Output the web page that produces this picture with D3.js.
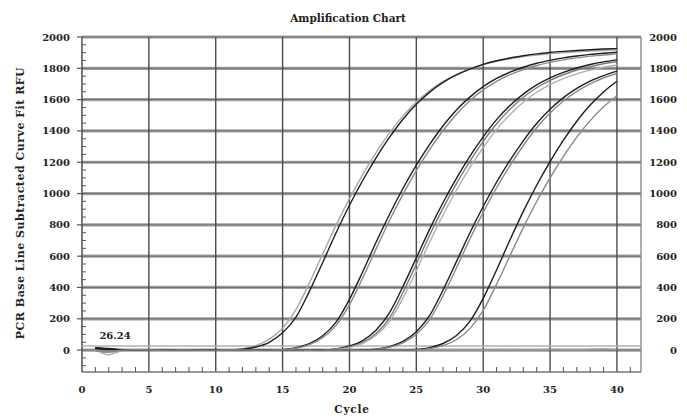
<!DOCTYPE html>
<html>
<head>
<meta charset="utf-8">
<script src="https://cdn.jsdelivr.net/npm/d3@7"></script>
<style>
  html, body { margin: 0; padding: 0; background: #fff; }
  svg text { font-family: "DejaVu Serif", "Liberation Serif", serif; font-weight: bold; fill: #222; }
</style>
</head>
<body>
<svg id="chart" width="687" height="418"></svg>
<script>
// cycle numbers along the x axis
const cycles = d3.range(1, 41);

// RFU values, one array per well
const wellA1 = [4, -30, -4, 2, 4, 1, -2, 3, 0, 1, 1, 9, 29, 68, 139, 258, 428, 614, 798, 968, 1123, 1263, 1388, 1496, 1585, 1658, 1716, 1760, 1795, 1823, 1844, 1861, 1875, 1885, 1893, 1900, 1906, 1910, 1914, 1917];
const wellA2 = [16, 10, 2, -1, 3, 2, 0, -2, 1, 2, 0, 5, 20, 50, 110, 210, 375, 560, 750, 925, 1085, 1230, 1360, 1475, 1570, 1648, 1710, 1758, 1795, 1825, 1848, 1866, 1880, 1892, 1901, 1908, 1914, 1919, 1923, 1926];
const wellB1 = [8, 3, -2, 0, 2, 1, -1, 0, 2, 1, -1, 0, 1, 0, 3, 15, 41, 92, 179, 324, 502, 690, 868, 1032, 1181, 1314, 1433, 1534, 1616, 1683, 1735, 1775, 1807, 1832, 1851, 1867, 1879, 1889, 1896, 1902];
const wellB2 = [-3, -8, 1, 2, 0, -1, 1, 2, 0, -1, 0, 1, 0, -1, 2, 12, 35, 79, 158, 290, 463, 648, 829, 995, 1146, 1282, 1403, 1507, 1593, 1662, 1717, 1759, 1792, 1818, 1838, 1854, 1867, 1878, 1885, 1892];
const wellC1 = [12, 5, 0, 1, -1, 0, 2, 1, -1, 0, 1, 0, -2, -1, 0, 1, 0, 1, 8, 26, 61, 128, 239, 406, 589, 773, 943, 1097, 1237, 1362, 1472, 1562, 1635, 1694, 1739, 1774, 1802, 1824, 1841, 1854];
const wellC2 = [2, -4, -1, 0, 1, 2, 0, -1, 0, 1, 0, -1, 0, 1, -1, 0, 1, 0, 5, 20, 49, 108, 206, 368, 549, 735, 907, 1063, 1205, 1333, 1446, 1539, 1615, 1676, 1723, 1759, 1789, 1811, 1829, 1842];
const wellC3 = [-6, -14, -3, 1, 0, -1, 0, 1, 2, 0, -1, 0, 1, 0, -1, 0, 1, 2, 4, 16, 43, 95, 184, 332, 507, 691, 863, 1021, 1165, 1294, 1408, 1504, 1583, 1647, 1696, 1734, 1764, 1788, 1807, 1821];
const wellD1 = [10, 6, 1, -1, 0, 1, -2, 0, 1, 0, -1, 0, 2, 1, 0, -1, 0, 1, 0, -1, 0, 6, 22, 55, 117, 221, 384, 565, 748, 917, 1072, 1212, 1337, 1447, 1538, 1613, 1672, 1718, 1753, 1782];
const wellD2 = [0, -10, -2, 1, 2, 0, -1, 1, 0, -1, 1, 2, 0, -1, 0, 1, -1, 0, 1, 0, -1, 4, 18, 46, 101, 194, 348, 525, 709, 880, 1037, 1179, 1307, 1420, 1514, 1591, 1653, 1701, 1738, 1767];
const wellE1 = [14, 7, 2, 0, -1, 1, 0, -1, 1, 2, 0, -1, 0, 1, -2, -1, 0, 1, 0, -1, 0, 1, 0, -1, 4, 16, 42, 93, 183, 330, 512, 703, 886, 1053, 1204, 1341, 1462, 1565, 1649, 1717];
const wellE2 = [-4, -12, 0, 2, 1, -1, 0, 1, -1, 0, 1, 0, -1, 0, 1, 0, -1, 0, 1, 0, -2, -1, 0, 1, 1, 9, 28, 66, 137, 253, 420, 602, 782, 949, 1100, 1237, 1360, 1466, 1554, 1625];
const wellNtc = [5, -2, 3, 0, 2, -1, 1, 3, 0, -2, 1, 2, 0, -1, 2, 1, 0, 3, 1, 0, 2, 1, -1, 0, 2, 1, 3, 2, 0, 1, 2, 3, 1, 2, 4, 3, 2, 5, 8, 4];

const threshold = 26.24;
const xTicks = [0, 5, 10, 15, 20, 25, 30, 35, 40];
const yTicks = [0, 200, 400, 600, 800, 1000, 1200, 1400, 1600, 1800, 2000];

const wells = [wellNtc, wellA1, wellA2, wellB1, wellB2, wellC1, wellC2, wellC3, wellD1, wellD2, wellE1, wellE2];
const shades = ["#9a9a9a", "#a8a8a8", "#1e1e1e", "#1e1e1e", "#8a8a8a", "#1e1e1e", "#7a7a7a", "#b0b0b0", "#1e1e1e", "#8a8a8a", "#1e1e1e", "#8a8a8a"];

const svg = d3.select("#chart");
const plot = {left: 82, right: 641, top: 37, bottom: 372};

const x = d3.scaleLinear().domain([0, 41.8]).range([plot.left, plot.right]);
const y = d3.scaleLinear().domain([-140, 2000]).range([plot.bottom, plot.top]);

// horizontal grid (thick grey bands)
svg.append("g")
   .selectAll("line")
   .data(yTicks)
   .enter().append("line")
   .attr("x1", plot.left).attr("x2", plot.right)
   .attr("y1", d => y(d)).attr("y2", d => y(d))
   .attr("stroke", "#a0a0a0")
   .attr("stroke-width", 3.2);
svg.append("g")
   .selectAll("line")
   .data(yTicks)
   .enter().append("line")
   .attr("x1", plot.left).attr("x2", plot.right)
   .attr("y1", d => y(d)).attr("y2", d => y(d))
   .attr("stroke", "#6a6a6a")
   .attr("stroke-width", 0.9);

// vertical grid
svg.append("g")
   .selectAll("line")
   .data(xTicks.slice(1))
   .enter().append("line")
   .attr("x1", d => x(d)).attr("x2", d => x(d))
   .attr("y1", plot.top).attr("y2", plot.bottom)
   .attr("stroke", "#4a4a4a")
   .attr("stroke-width", 1.4);

// frame
svg.append("line").attr("x1", plot.right).attr("x2", plot.right).attr("y1", plot.top).attr("y2", plot.bottom)
   .attr("stroke", "#8a8a8a").attr("stroke-width", 1.4);
svg.append("line").attr("x1", plot.left).attr("x2", plot.right).attr("y1", plot.bottom).attr("y2", plot.bottom)
   .attr("stroke", "#777").attr("stroke-width", 1.4);
svg.append("line").attr("x1", plot.left).attr("x2", plot.left).attr("y1", plot.top).attr("y2", plot.bottom)
   .attr("stroke", "#444").attr("stroke-width", 1.4);

// threshold line
svg.append("line")
   .attr("x1", plot.left).attr("x2", plot.right)
   .attr("y1", y(threshold)).attr("y2", y(threshold))
   .attr("stroke", "#b0b0b0")
   .attr("stroke-width", 1.5);

// minor ticks, pointing inward
svg.append("g")
   .selectAll("line")
   .data(d3.range(-100, 2000, 50).filter(d => d % 200 !== 0))
   .enter().append("line")
   .attr("x1", plot.left).attr("x2", plot.left + 4)
   .attr("y1", d => y(d)).attr("y2", d => y(d))
   .attr("stroke", "#555").attr("stroke-width", 1);
svg.append("g")
   .selectAll("line")
   .data(d3.range(1, 42).filter(d => d % 5 !== 0))
   .enter().append("line")
   .attr("x1", d => x(d)).attr("x2", d => x(d))
   .attr("y1", plot.bottom).attr("y2", plot.bottom - 5)
   .attr("stroke", "#555").attr("stroke-width", 1);

// outer major ticks on the left
svg.append("g")
   .selectAll("line")
   .data(yTicks)
   .enter().append("line")
   .attr("x1", plot.left - 5).attr("x2", plot.left)
   .attr("y1", d => y(d)).attr("y2", d => y(d))
   .attr("stroke", "#555").attr("stroke-width", 1.2);

// curves
const line = d3.line()
   .x((d, i) => x(cycles[i]))
   .y(d => y(d))
   .curve(d3.curveMonotoneX);

svg.append("g")
   .selectAll("path")
   .data(wells)
   .enter().append("path")
   .attr("d", d => line(d))
   .attr("fill", "none")
   .attr("stroke", (d, i) => shades[i])
   .attr("stroke-width", 1.4);

// axis labels
svg.append("g")
   .selectAll("text")
   .data(yTicks)
   .enter().append("text")
   .attr("x", 70).attr("y", d => y(d))
   .attr("dy", "0.35em")
   .attr("text-anchor", "end")
   .style("font-size", "10px")
   .text(d => d);

svg.append("g")
   .selectAll("text")
   .data(yTicks)
   .enter().append("text")
   .attr("x", 677).attr("y", d => y(d))
   .attr("dy", "0.35em")
   .attr("text-anchor", "end")
   .style("font-size", "10px")
   .text(d => d);

svg.append("g")
   .selectAll("text")
   .data(xTicks)
   .enter().append("text")
   .attr("x", d => x(d)).attr("y", 393)
   .attr("text-anchor", "middle")
   .style("font-size", "10px")
   .text(d => d);

svg.append("text")
   .attr("x", 348).attr("y", 22)
   .attr("text-anchor", "middle")
   .style("font-size", "10.5px")
   .text("Amplification Chart");

svg.append("text")
   .attr("x", 352).attr("y", 413)
   .attr("text-anchor", "middle")
   .style("font-size", "10.5px")
   .style("letter-spacing", "0.8px")
   .text("Cycle");

svg.append("text")
   .attr("transform", "translate(24,203) rotate(-90)")
   .attr("text-anchor", "middle")
   .style("font-size", "11px")
   .style("letter-spacing", "0.5px")
   .text("PCR Base Line Subtracted Curve Fit RFU");

svg.append("text")
   .attr("x", x(1.3)).attr("y", y(70))
   .style("font-size", "10px")
   .text(threshold.toFixed(2));
</script>
</body>
</html>
